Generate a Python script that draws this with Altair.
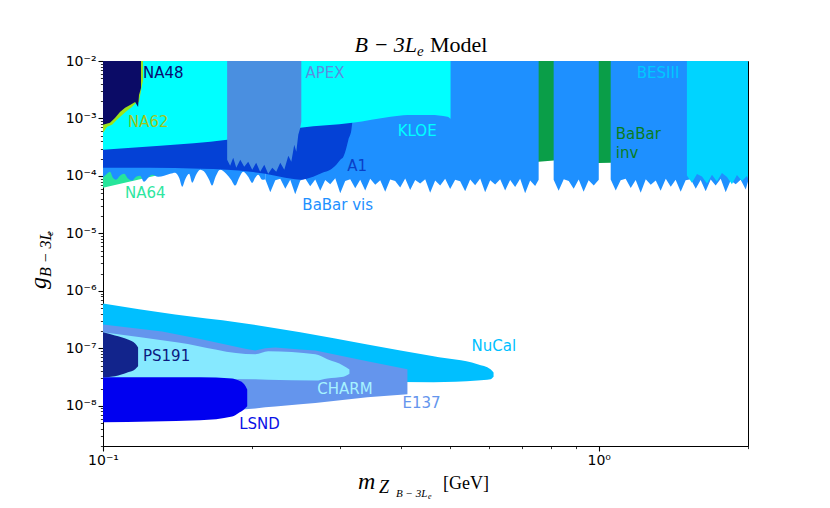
import altair as alt
import pandas as pd

X_DOMAIN = [0.1, 2.0]
Y_DOMAIN = [2e-9, 1e-2]
TOP = 1e-2

# ---------------- upper (visible-decay / invisible) regions ----------------
babar_inv_m = [0.5, 0.7564, 0.8111, 1.0, 1.057, 1.5]
babar_inv_lo = [1.80e-4, 1.77e-4, 1.86e-4, 1.68e-4, 1.70e-4, 1.75e-4]

na64_m = [0.1, 0.1188, 0.1411]
na64_lo = [6.24e-5, 8.8e-5, 1.23e-4]

# dodger-blue region, smooth scalloped part at low mass
babar_vis_m0 = [0.1000, 0.1019, 0.1033, 0.1047, 0.1062, 0.1082, 0.1103, 0.1123, 0.1144, 0.1166,
                0.1188, 0.1210, 0.1233, 0.1256, 0.1292, 0.1328, 0.1366, 0.1398, 0.1424, 0.1445,
                0.1464, 0.1492, 0.1513, 0.1541, 0.1570, 0.1607, 0.1637, 0.1660, 0.1684, 0.1723,
                0.1772, 0.1813, 0.1848, 0.1882, 0.1918, 0.1963, 0.2000, 0.2028, 0.2056, 0.2095, 0.2125]
babar_vis_lo0 = [9.3e-5, 1.09e-4, 1.18e-4, 9.3e-5, 8.6e-5, 1.01e-4, 1.09e-4, 9.0e-5, 8.3e-5, 9.7e-5,
                 1.01e-4, 7.9e-5, 9.3e-5, 1.05e-4, 9.7e-5, 1.01e-4, 1.09e-4, 1.14e-4, 9.3e-5, 6.5e-5,
                 8.6e-5, 1.09e-4, 7.6e-5, 1.05e-4, 1.28e-4, 1.14e-4, 8.6e-5, 6.8e-5, 9.3e-5, 1.28e-4,
                 1.09e-4, 8.6e-5, 6.8e-5, 9.3e-5, 1.18e-4, 9.7e-5, 7.6e-5, 9.3e-5, 1.05e-4, 8.6e-5, 8.8e-5]
# BaBar visible, jagged pieces between the resonance gaps
babar_vis_m1 = [0.2125, 0.2175, 0.2226, 0.2278, 0.2332, 0.2386, 0.2442, 0.2500, 0.2558, 0.2618,
                0.2680, 0.2743, 0.2807, 0.2873, 0.2941, 0.3010, 0.3080, 0.3153, 0.3227, 0.3302,
                0.3380, 0.3459, 0.3541, 0.3624, 0.3709, 0.3796, 0.3885, 0.3976, 0.4070, 0.4165,
                0.4263, 0.4363, 0.4466, 0.4570, 0.4678, 0.4788, 0.4900, 0.5015, 0.5133, 0.5253,
                0.5377, 0.5503, 0.5632, 0.5765, 0.5900, 0.6039, 0.6181, 0.6326, 0.6474, 0.6626,
                0.6782, 0.6941, 0.7104, 0.7271, 0.7442, 0.7564]
babar_vis_lo1 = [8.8e-5, 5.2e-5, 8.4e-5, 8.9e-5, 6.0e-5, 8.6e-5, 4.8e-5, 8.3e-5, 9.0e-5, 6.6e-5,
                 8.7e-5, 5.5e-5, 8.5e-5, 7.2e-5, 9.1e-5, 5.0e-5, 8.2e-5, 8.8e-5, 6.1e-5, 8.6e-5,
                 5.6e-5, 8.9e-5, 7.0e-5, 8.4e-5, 5.3e-5, 8.7e-5, 8.2e-5, 6.3e-5, 9.0e-5, 5.7e-5,
                 8.5e-5, 7.4e-5, 8.8e-5, 5.1e-5, 8.3e-5, 6.8e-5, 8.9e-5, 5.9e-5, 8.6e-5, 8.1e-5,
                 5.4e-5, 8.7e-5, 6.9e-5, 9.0e-5, 5.2e-5, 8.4e-5, 7.1e-5, 8.8e-5, 5.6e-5, 8.5e-5,
                 6.4e-5, 8.9e-5, 5.0e-5, 8.3e-5, 6.7e-5, 8.6e-5]
babar_vis_m2 = [0.811, 0.830, 0.850, 0.870, 0.890, 0.911, 0.932, 0.954, 0.977, 1.0]
babar_vis_lo2 = [8.6e-5, 5.5e-5, 8.8e-5, 8.2e-5, 6.0e-5, 8.7e-5, 5.3e-5, 8.4e-5, 6.8e-5, 8.6e-5]
babar_vis_m3 = [1.057, 1.082, 1.107, 1.133, 1.160, 1.187, 1.215, 1.244, 1.273, 1.303,
                1.333, 1.365, 1.397, 1.429, 1.463, 1.497, 1.533, 1.569, 1.605, 1.643,
                1.682, 1.721, 1.762, 1.803, 1.845, 1.889, 1.933, 1.979, 2.0]
babar_vis_lo3 = [8.7e-5, 5.6e-5, 8.4e-5, 8.9e-5, 6.2e-5, 8.5e-5, 5.1e-5, 8.8e-5, 7.0e-5, 8.3e-5,
                 5.5e-5, 8.9e-5, 6.5e-5, 8.6e-5, 5.3e-5, 8.4e-5, 8.8e-5, 6.0e-5, 8.5e-5, 5.4e-5,
                 8.7e-5, 6.8e-5, 8.9e-5, 5.2e-5, 8.3e-5, 7.2e-5, 8.6e-5, 5.8e-5, 8.0e-5]

besiii_m = [1.506, 1.541, 1.578, 1.615, 1.653, 1.692, 1.731, 1.772, 1.814, 1.856, 1.900, 1.945, 1.990, 2.0]
besiii_lo = [1.02e-4, 7.6e-5, 1.08e-4, 9.8e-5, 7.4e-5, 1.05e-4, 8.0e-5, 1.12e-4, 9.6e-5, 7.2e-5,
             1.04e-4, 8.2e-5, 1.0e-4, 9.0e-5]

a1_m = [0.1, 0.1244, 0.1570, 0.1780, 0.1982, 0.2125, 0.2278, 0.2385, 0.2500, 0.2655,
        0.2770, 0.2874, 0.2955, 0.3011, 0.3054, 0.3097, 0.3126, 0.3170, 0.3184]
a1_lo = [1.39e-4, 1.39e-4, 1.33e-4, 1.28e-4, 1.18e-4, 1.09e-4, 9.7e-5, 9.0e-5, 8.6e-5, 9.7e-5,
         1.14e-4, 1.28e-4, 1.56e-4, 1.91e-4, 2.15e-4, 3.09e-4, 4.25e-4, 6.34e-4, 8.73e-4]

kloe_m = [0.1, 0.1304, 0.178, 0.2125, 0.25, 0.3184, 0.3801, 0.4112, 0.4576, 0.4953, 0.5024]
kloe_lo = [2.85e-4, 3.34e-4, 4.25e-4, 5.41e-4, 6.87e-4, 8.39e-4, 1.07e-3, 1.155e-3, 1.155e-3, 1.07e-3, 9.85e-4]

apex_m = [0.1780, 0.1805, 0.1831, 0.1857, 0.1892, 0.1927, 0.1963, 0.2000, 0.2037, 0.2075, 0.2115,
          0.2154, 0.2195, 0.2236, 0.2278, 0.2321, 0.2365, 0.2398, 0.2431, 0.2454, 0.2477, 0.2500, 0.2512]
apex_lo = [1.91e-4, 1.50e-4, 2.07e-4, 1.39e-4, 1.91e-4, 1.44e-4, 1.77e-4, 1.28e-4, 1.70e-4, 1.18e-4, 1.56e-4,
           1.09e-4, 1.39e-4, 1.18e-4, 1.70e-4, 1.28e-4, 2.24e-4, 1.77e-4, 3.48e-4, 2.63e-4, 5.19e-4, 6.87e-4, 8.73e-4]

na62_m = [0.1, 0.1019, 0.1043, 0.1067, 0.1093, 0.1118, 0.1144, 0.1166, 0.1182, 0.1199, 0.1204]
na62_lo = [5.62e-4, 7.15e-4, 7.74e-4, 9.46e-4, 1.155e-3, 1.36e-3, 1.59e-3, 1.87e-3, 1.94e-3, 3.83e-3, 4.5e-3]

na48_m = [0.1, 0.1033, 0.1057, 0.1082, 0.1108, 0.1134, 0.1161, 0.1177, 0.1182, 0.1193]
na48_lo = [7.74e-4, 8.39e-4, 1.02e-3, 1.30e-3, 1.53e-3, 1.72e-3, 1.94e-3, 1.59e-3, 2.57e-3, 3.40e-3]

# ---------------- lower (beam-dump) regions ----------------
nucal_m = [0.1, 0.1398, 0.1874, 0.25, 0.3414, 0.4642, 0.5694, 0.6049, 0.6135]
nucal_hi = [6.04e-7, 3.89e-7, 2.83e-7, 1.90e-7, 1.17e-7, 7.26e-8, 5.27e-8, 4.32e-8, 3.80e-8]
nucal_lo = [1.97e-7, 1.2e-7, 6.0e-8, 3.54e-8, 2.7e-8, 2.57e-8, 2.75e-8, 2.90e-8, 3.20e-8]

e137_m = [0.1, 0.1316, 0.157, 0.1936, 0.2028, 0.2125, 0.2226, 0.25, 0.2681, 0.3414, 0.4112]
e137_hi = [2.61e-7, 1.97e-7, 1.45e-7, 9.8e-8, 9.2e-8, 1.0e-7, 1.04e-7, 9.6e-8, 9.2e-8, 5.94e-8, 4.32e-8]
e137_lo = [6.5e-9, 6.9e-9, 7.15e-9, 8.73e-9, 9.0e-9, 9.4e-9, 9.7e-9, 1.07e-8, 1.12e-8, 1.41e-8, 1.59e-8]

charm_m = [0.1, 0.1418, 0.2028, 0.2154, 0.2681, 0.2835, 0.3054, 0.3141]
charm_hi = [1.90e-7, 1.27e-7, 7.87e-8, 8.87e-8, 7.87e-8, 6.44e-8, 5.0e-8, 4.3e-8]
charm_lo = [3.0e-8, 2.95e-8, 2.90e-8, 2.85e-8, 2.75e-8, 3.0e-8, 3.2e-8, 3.6e-8]

lsnd_m = [0.1, 0.157, 0.1822, 0.1874, 0.1927, 0.1954]
lsnd_hi = [3.14e-8, 3.14e-8, 3.0e-8, 2.78e-8, 2.37e-8, 1.93e-8]
lsnd_lo = [5.19e-9, 5.6e-9, 6.5e-9, 7.44e-9, 8.73e-9, 9.85e-9]

ps191_m = [0.1, 0.1057, 0.1123, 0.1161, 0.1177]
ps191_hi = [1.90e-7, 1.68e-7, 1.43e-7, 1.22e-7, 1.04e-7]
ps191_lo = [3.14e-8, 3.27e-8, 3.83e-8, 4.32e-8, 4.87e-8]

# ---------------- region labels ----------------
label_text = ["NA48", "NA62", "NA64", "APEX", "KLOE", "A1", "BaBar vis", "BESIII", "BaBar", "inv",
              "NuCal", "PS191", "CHARM", "E137", "LSND"]
label_m = [0.1204, 0.1123, 0.1108, 0.256, 0.393, 0.3111, 0.2524, 1.193, 1.082, 1.082,
           0.5537, 0.1204, 0.2705, 0.4018, 0.1882]
label_g = [6.3e-3, 8.7e-4, 5.1e-5, 6.2e-3, 6.1e-4, 1.50e-4, 3.16e-5, 6.2e-3, 5.3e-4, 2.55e-4,
           1.08e-7, 7.26e-8, 1.94e-8, 1.11e-8, 4.83e-9]
label_color = ["#0b0b70", "#a0c41c", "#2ee6a0", "#5b8fe0", "#00ffff", "#0a40c8", "#1e90ff", "#00c8ff",
               "#0a7d1e", "#0a7d1e", "#00bfff", "#0c1a80", "#a6f2ff", "#6495ed", "#0a12e6"]

# ---------------- axes ----------------
X_TICKS = [0.1, 0.2, 0.3, 0.4, 0.5, 0.6, 0.7, 0.8, 0.9, 1.0, 2.0]
X_LABELS = {-1: "10⁻¹", 0: "10⁰"}
Y_LABELS = {-8: "10⁻⁸", -7: "10⁻⁷", -6: "10⁻⁶", -5: "10⁻⁵", -4: "10⁻⁴", -3: "10⁻³", -2: "10⁻²"}
Y_TICKS = [k * 10.0 ** e for e in range(-9, -2) for k in range(1, 10)
           if Y_DOMAIN[0] * 0.999 <= k * 10.0 ** e <= Y_DOMAIN[1] * 1.001] + [1e-2]

EXP = "round(log(datum.value)/LN10)"
IS_MAJOR = f"abs(log(datum.value)/LN10 - {EXP}) < 0.001"


def label_expr(mapping):
    expr = "''"
    for e, lab in mapping.items():
        expr = f"({EXP} == {e}) ? '{lab}' : " + expr
    return f"({IS_MAJOR}) ? ({expr}) : ''"


def make_axis(values, mapping, **kw):
    return alt.Axis(
        values=values, labelExpr=label_expr(mapping), title="", grid=False,
        tickSize={"condition": {"test": IS_MAJOR, "value": 5}, "value": 2.6},
        tickWidth={"condition": {"test": IS_MAJOR, "value": 1.1}, "value": 0.8},
        labelOverlap=False, labelFont="DejaVu Sans", labelFontSize=14, labelColor="black",
        tickColor="black", domainColor="black", domainWidth=1, labelPadding=2, **kw)


xs = alt.Scale(type="log", domain=X_DOMAIN, nice=False)
ys = alt.Scale(type="log", domain=Y_DOMAIN, nice=False)
xaxis = make_axis(X_TICKS, X_LABELS, labelFlush=False)
yaxis = make_axis(Y_TICKS, Y_LABELS)


def frame(m, lo, hi, piece=0):
    return pd.DataFrame({"m": m, "lo": lo, "hi": hi, "piece": piece})


def region(df, color, interp="linear"):
    return alt.Chart(df).mark_area(color=color, clip=True, opacity=1, strokeWidth=0,
                                   interpolate=interp).encode(
        x=alt.X("m:Q", scale=xs, axis=xaxis),
        y=alt.Y("lo:Q", scale=ys, axis=yaxis),
        y2="hi:Q",
        detail="piece:N",
    )


babar_vis_df = pd.concat([
    frame(babar_vis_m1, babar_vis_lo1, TOP, 1),
    frame(babar_vis_m2, babar_vis_lo2, TOP, 2),
    frame(babar_vis_m3, babar_vis_lo3, TOP, 3),
])

layers = [
    region(frame(babar_inv_m, babar_inv_lo, TOP), "#0a9e48"),
    region(frame(na64_m, na64_lo, 1e-3), "#26e59b"),
    region(frame(babar_vis_m0, babar_vis_lo0, TOP), "#1e90ff", "monotone"),
    region(babar_vis_df, "#1e90ff"),
    region(frame(besiii_m, besiii_lo, TOP), "#00d4ff"),
    region(frame(a1_m, a1_lo, TOP), "#0441d6", "monotone"),
    region(frame(kloe_m, kloe_lo, TOP), "#00ffff", "monotone"),
    region(frame(apex_m, apex_lo, TOP), "#4a8fe0"),
    region(frame(na62_m, na62_lo, TOP), "#9de31a"),
    region(frame(na48_m, na48_lo, TOP), "#0b0b66"),
    region(frame(nucal_m, nucal_lo, nucal_hi), "#00bfff", "monotone"),
    region(frame(e137_m, e137_lo, e137_hi), "#6495ed"),
    region(frame(charm_m, charm_lo, charm_hi), "#86e9ff", "monotone"),
    region(frame(lsnd_m, lsnd_lo, lsnd_hi), "#0000f0", "monotone"),
    region(frame(ps191_m, ps191_lo, ps191_hi), "#12248c", "monotone"),
]

labels_df = pd.DataFrame({"m": label_m, "g": label_g, "t": label_text, "c": label_color})
layers.append(
    alt.Chart(labels_df).mark_text(align="left", baseline="middle", font="DejaVu Sans", fontSize=15).encode(
        x=alt.X("m:Q", scale=xs, axis=xaxis),
        y=alt.Y("g:Q", scale=ys, axis=yaxis),
        text="t:N",
        color=alt.Color("c:N", scale=None),
    )
)


def math_text(s, x, y, size, italic=True, align="left", angle=0):
    props = dict(align=align, baseline="alphabetic", font="Liberation Serif", fontSize=size,
                 fontStyle="italic" if italic else "normal", color="black")
    if angle:
        props["angle"] = angle
    return alt.Chart(pd.DataFrame({"t": [s]})).mark_text(**props).encode(
        text="t:N", x=alt.value(x), y=alt.value(y))


# title  B − 3L_e Model
layers += [
    math_text("B − 3L", 314, -9, 22, align="right"),
    math_text("e", 314, -5, 15),
    math_text("Model", 327, -9, 22, italic=False),
]
# x label  m_{Z_{B−3L_e}} [GeV]
layers += [
    math_text("m", 255, 428, 24),
    math_text("Z", 276, 432, 18),
    math_text("B − 3L", 293, 436, 11),
    math_text("e", 325, 438, 8),
    math_text("[GeV]", 340, 428, 18, italic=False),
]
# y label  g_{B−3L_e}
layers += [
    math_text("g", -57, 228, 24, angle=270),
    math_text("B − 3L", -52, 216, 16, angle=270),
    math_text("e", -50, 175, 11, angle=270),
]

chart = alt.layer(*layers).properties(
    width=645, height=385,
    padding={"left": 95, "top": 53, "right": 74, "bottom": 54},
    autosize=alt.AutoSizeParams(type="none"),
).configure_view(stroke="black", strokeWidth=1)

chart.save("out.html", embed_options={"renderer": "svg", "actions": False})
